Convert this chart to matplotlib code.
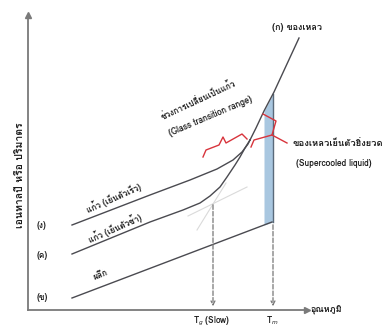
import matplotlib
matplotlib.use("Agg")
import matplotlib.pyplot as plt
from matplotlib import font_manager
from matplotlib.ft2font import FT2Font

# ข้อมูล: อุณหภูมิ (แกน x) กับ เอนทาลปี/ปริมาตร (แกน y), หน่วยสมมติ
crystal_T = [44, 244]
crystal_H = [12, 88]

glass_fast_T = [44, 122, 162, 189, 205, 214, 220, 222]
glass_fast_H = [85, 115, 130, 141, 150, 158, 166, 170]

glass_slow_T = [44, 122, 155, 172, 182, 192, 199, 207, 212, 217, 222]
glass_slow_H = [56, 88, 100, 107, 114, 123, 133, 145, 153, 162, 170]

liquid_T = [222, 228, 236, 246, 271]
liquid_H = [170, 182, 199, 218, 272]

# ช่วงของเหลวเย็นตัวยิ่งยวด (แถบสีฟ้า)
strip_T = [236, 245]
strip_low = [85, 88]
strip_high = [199, 216]

Tg, Tg_H = 185, 108
Tm, Tm_H = 245, 88

tangent1_T, tangent1_H = [160, 219], [94, 123]
tangent2_T, tangent2_H = [169, 198], [80, 127]

brace1_T = [175, 178, 191, 195, 198, 214, 219]
brace1_H = [153, 160, 165, 173, 167, 176, 171]
brace2_T = [235, 248, 244, 226, 223]
brace2_H = [196, 189, 175, 170, 163]
pointer_T, pointer_H = [244, 259], [175, 167]

curve_labels = ["(ง)", "(ค)", "(ข)"]
curve_label_H = [85, 54, 13]


def find_thai_font():
    for f in font_manager.fontManager.ttflist:
        try:
            if 0x0E01 in FT2Font(f.fname).get_charmap():
                return f.name
        except Exception:
            pass
    return "DejaVu Sans"


thai = find_thai_font()
plt.rcParams["font.family"] = [thai, "Liberation Sans", "DejaVu Sans"]

line_c = "#4a4a50"
axis_c = "#7a7a7a"
red = "#d8343c"

fig = plt.figure(figsize=(3.84, 3.29), dpi=100)
ax = fig.add_axes([28 / 384, 19 / 329, 279 / 384, 295 / 329])
ax.set_xlim(0, 279)
ax.set_ylim(0, 295)
for s in ["top", "right"]:
    ax.spines[s].set_visible(False)
for s in ["left", "bottom"]:
    ax.spines[s].set_color(axis_c)
    ax.spines[s].set_linewidth(1.3)
ax.set_xticks([])
ax.set_yticks([])
ax.plot(1, 0, ">", color=axis_c, markersize=4, transform=ax.transAxes, clip_on=False)
ax.plot(0, 1, "^", color=axis_c, markersize=4, transform=ax.transAxes, clip_on=False)

# แถบสีฟ้า
ax.fill_between(strip_T, strip_low, strip_high, color="#a9c7e0", lw=0, zorder=1)

# เส้นสัมผัสจาง ๆ
ax.plot(tangent1_T, tangent1_H, color="#dadada", lw=0.8, zorder=1)
ax.plot(tangent2_T, tangent2_H, color="#dadada", lw=0.8, zorder=1)

# เส้นหลัก
ax.plot(crystal_T, crystal_H, color=line_c, lw=1.0, zorder=3)
ax.plot(glass_fast_T, glass_fast_H, color=line_c, lw=1.0, zorder=3)
ax.plot(glass_slow_T, glass_slow_H, color=line_c, lw=1.0, zorder=3)
ax.plot(liquid_T, liquid_H, color=line_c, lw=1.0, zorder=3)
ax.plot([Tm, Tm], [Tm_H, strip_high[1]], color="#5a6a7a", lw=1.0, zorder=2)

# เส้นประ Tg, Tm
for t, h in [(Tg, Tg_H), (Tm, Tm_H)]:
    ax.annotate("", xy=(t, 1), xytext=(t, h),
                arrowprops=dict(arrowstyle="->", linestyle="--", color="#777777",
                                lw=0.9, mutation_scale=7))

# วงเล็บสีแดง
ax.plot(brace1_T, brace1_H, color=red, lw=1.0, zorder=4)
ax.plot(brace2_T, brace2_H, color=red, lw=1.0, zorder=4)
ax.plot(pointer_T, pointer_H, color=red, lw=1.0, zorder=4)

# ข้อความ
tk = dict(clip_on=False, color="#1e1e1e", fontweight="bold")
ax.text(269, 282, "(ก) ของเหลว", fontsize=6.5, ha="center", va="center", **tk)
for lab, h in zip(curve_labels, curve_label_H):
    ax.text(14, h, lab, fontsize=6, ha="center", va="center", **tk)
ax.text(86, 112, "แก้ว (เย็นตัวเร็ว)", fontsize=6, rotation=24, ha="center", va="center", **tk)
ax.text(87, 82, "แก้ว (เย็นตัวช้า)", fontsize=6, rotation=24, ha="center", va="center", **tk)
ax.text(73, 35, "ผลึก", fontsize=6, rotation=22, ha="center", va="center", **tk)
ax.text(170, 210, "ช่วงการเปลี่ยนเป็นแก้ว", fontsize=6, rotation=25, ha="center", va="center", **tk)
ax.text(183, 194, "(Glass transition range)", fontsize=6.2, rotation=23,
        ha="center", va="center", **tk)
ax.text(265, 167, "ของเหลวเย็นตัวยิ่งยวด", fontsize=6.8, ha="left", va="center", **tk)
ax.text(268, 147, "(Supercooled liquid)", fontsize=6.1, ha="left", va="center", **tk)
ax.text(283, 0, "อุณหภูมิ", fontsize=6.5, ha="left", va="center", **tk)
ax.text(-8, 135, "เอนทาลปี หรือ ปริมาตร", fontsize=7.5, rotation=90, ha="center", va="center", **tk)
ax.text(Tg - 1, -11, "T$_g$ (Slow)", fontsize=6, ha="center", va="center", **tk)
ax.text(Tm - 1, -11, "T$_m$", fontsize=6, ha="center", va="center", **tk)

fig.savefig("out.png", dpi=100)
